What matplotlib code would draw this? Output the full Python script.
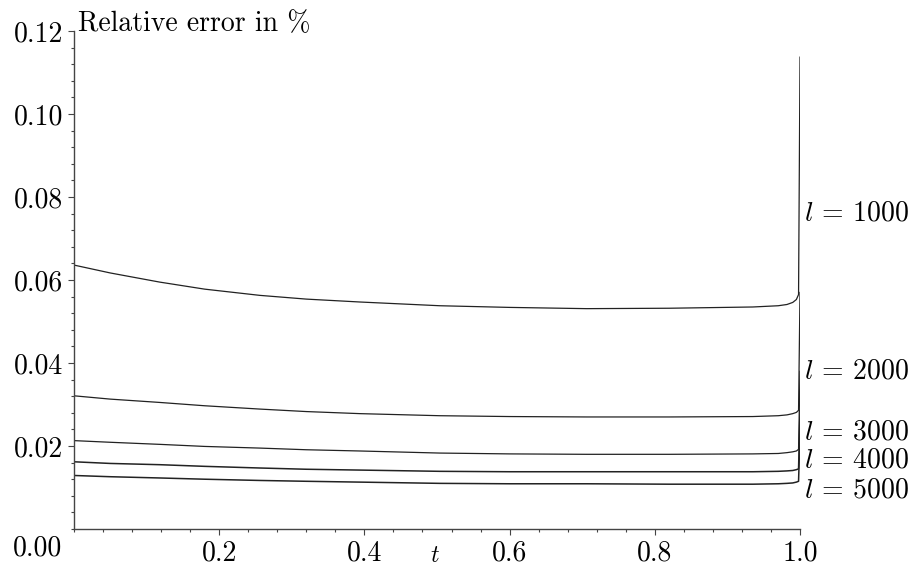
import numpy as np
import matplotlib
matplotlib.use("Agg")
import matplotlib.pyplot as plt
from matplotlib.ticker import MultipleLocator

# data (t, relative error in %)
t = [0.0, 0.05, 0.118, 0.18, 0.256, 0.32, 0.394, 0.504, 0.6, 0.706, 0.82, 0.935,
     0.97, 0.982, 0.99, 0.995, 0.998, 1.0]
err_1000 = [0.0636, 0.0617, 0.0595, 0.0578, 0.0563, 0.0554, 0.0547, 0.0538, 0.0534, 0.0531,
            0.0532, 0.0535, 0.0538, 0.0541, 0.0546, 0.0553, 0.0565, 0.1137]
err_2000 = [0.0321, 0.0313, 0.0305, 0.0297, 0.0289, 0.0283, 0.0278, 0.0273, 0.0271, 0.0270,
            0.0270, 0.0271, 0.0273, 0.0275, 0.0278, 0.0281, 0.0286, 0.0570]
err_3000 = [0.0213, 0.0209, 0.0204, 0.0199, 0.0195, 0.0191, 0.0188, 0.0183, 0.0181, 0.0180,
            0.0180, 0.0181, 0.0182, 0.0184, 0.0186, 0.0188, 0.0192, 0.0380]
err_4000 = [0.0162, 0.0158, 0.0155, 0.0151, 0.0147, 0.0144, 0.0142, 0.0139, 0.0138, 0.0138,
            0.0138, 0.0138, 0.0139, 0.0140, 0.0141, 0.0143, 0.0145, 0.0285]
err_5000 = [0.0129, 0.0126, 0.0123, 0.0120, 0.0117, 0.0115, 0.0113, 0.0110, 0.0109, 0.0109,
            0.0108, 0.0108, 0.0109, 0.0110, 0.0111, 0.0113, 0.0115, 0.0228]
series = [err_1000, err_2000, err_3000, err_4000, err_5000]
labels = ["$l$ = 1000", "$l$ = 2000", "$l$ = 3000", "$l$ = 4000", "$l$ = 5000"]
label_y = [0.0760, 0.0381, 0.0234, 0.0165, 0.0093]

x_ticks = [0.2, 0.4, 0.6, 0.8, 1.0]
y_ticks = [0.02, 0.04, 0.06, 0.08, 0.10, 0.12]

plt.rcParams['font.family'] = 'serif'
plt.rcParams['font.serif'] = ['cmr10']
plt.rcParams['mathtext.fontset'] = 'cm'
plt.rcParams['axes.formatter.use_mathtext'] = True

fig = plt.figure(figsize=(9.12, 5.67), dpi=100)
ax = fig.add_axes([0.0811, 0.067, 0.7961, 0.8783])

for i, s in enumerate(series):
    ax.plot(t, s, color='#222222', lw=0.9 if i < 3 else 1.1)

ax.set_xlim(0, 1.0)
ax.set_ylim(0, 0.12)
for side in ['top', 'right']:
    ax.spines[side].set_visible(False)
for side in ['left', 'bottom']:
    ax.spines[side].set_color('#444444')
    ax.spines[side].set_linewidth(1.0)

ax.set_xticks(x_ticks)
ax.set_xticklabels([f"{v:.1f}" for v in x_ticks])
ax.set_yticks(y_ticks)
ax.set_yticklabels([f"{v:.2f}" for v in y_ticks])
ax.xaxis.set_minor_locator(MultipleLocator(0.04))
ax.yaxis.set_minor_locator(MultipleLocator(0.004))
ax.tick_params(which='major', length=4, width=0.8, color='#444444', labelsize=20, pad=4)
ax.tick_params(which='minor', length=2.5, width=0.8, color='#444444')

# shared origin label
ax.annotate("0.00", xy=(0, 0), xytext=(-12, -19), textcoords='offset pixels',
            ha='right', va='center', fontsize=20, annotation_clip=False)

ax.text(0.006, 0.12, "Relative error in %", ha='left', va='baseline', fontsize=20)
ax.annotate("$t$", xy=(0.497, 0), xytext=(0, -27), textcoords='offset pixels',
            ha='center', va='center', fontsize=17, annotation_clip=False)

for lab, yv in zip(labels, label_y):
    ax.annotate(lab, xy=(1.0, yv), xytext=(4, 0), textcoords='offset pixels',
                ha='left', va='center', fontsize=20, annotation_clip=False)

fig.savefig("out.png", dpi=100)
